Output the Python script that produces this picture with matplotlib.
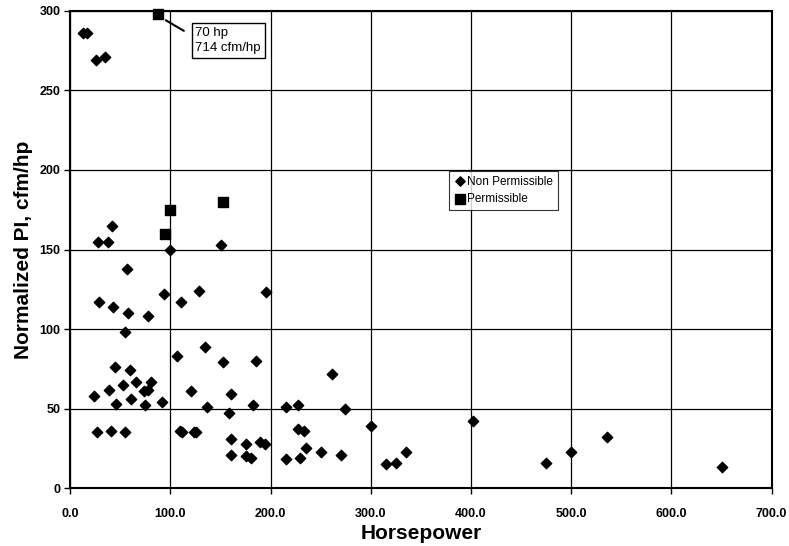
import matplotlib.pyplot as plt

plt.rcParams['font.family'] = ['Liberation Sans', 'DejaVu Sans']

# Non permissible machines (horsepower, normalized PI)
np_hp = [13, 17, 26, 35,
         42, 28, 38, 100, 150, 57, 29, 43, 58, 78, 94, 111, 129, 195,
         55, 107, 135, 152, 185, 45, 60, 66, 81, 53, 39, 74, 78, 24, 61,
         46, 75, 92, 121, 160, 137, 182, 215, 227, 158, 27, 41, 55, 110,
         112, 124, 126, 160, 175, 189, 194, 160, 175, 180, 215, 227, 233,
         261, 274, 300, 402, 235, 250, 270, 229, 315, 325, 335,
         475, 500, 536, 650]
np_pi = [286, 286, 269, 271,
         165, 155, 155, 150, 153, 138, 117, 114, 110, 108, 122, 117, 124, 123,
         98, 83, 89, 79, 80, 76, 74, 67, 67, 65, 62, 61, 62, 58, 56,
         53, 52, 54, 61, 59, 51, 52, 51, 52, 47, 35, 36, 35, 36,
         35, 35, 35, 31, 28, 29, 28, 21, 20, 19, 18, 37, 36,
         72, 50, 39, 42, 25, 23, 21, 19, 15, 16, 23,
         16, 23, 32, 13]

# Permissible machines
p_hp = [88, 95, 100, 152]
p_pi = [298, 160, 175, 180]

fig = plt.figure(figsize=(7.89, 5.46), dpi=100)
ax = fig.add_axes([0.089, 0.106, 0.889, 0.874])

ax.scatter(np_hp, np_pi, marker='D', s=28, color='black', label='Non Permissible',
           zorder=3, clip_on=False)
ax.scatter(p_hp, p_pi, marker='s', s=55, color='black', label='Permissible',
           zorder=3, clip_on=False)

ax.set_xlim(0, 700)
ax.set_ylim(0, 300)
ax.set_xticks(range(0, 701, 100))
ax.set_xticklabels([f'{v:.1f}' for v in range(0, 701, 100)])
ax.set_yticks(range(0, 301, 50))
ax.tick_params(labelsize=9, direction='out', length=4, width=1, pad=3)
for lab in ax.get_xticklabels() + ax.get_yticklabels():
    lab.set_fontweight('bold')
ax.tick_params(axis='x', pad=10)

ax.grid(True, color='black', linewidth=0.9)
ax.set_axisbelow(True)
for sp in ax.spines.values():
    sp.set_linewidth(1.5)

ax.set_xlabel('Horsepower', fontsize=15, fontweight='bold', labelpad=3)
ax.set_ylabel('Normalized PI, cfm/hp', fontsize=15, fontweight='bold', labelpad=5)

ax.annotate('70 hp\n714 cfm/hp', xy=(93, 295), xytext=(125, 290),
            fontsize=9.5, ha='left', va='top', linespacing=1.35,
            bbox=dict(boxstyle='square,pad=0.3', fc='white', ec='black', lw=1),
            arrowprops=dict(arrowstyle='-', lw=1.5, color='black',
                            relpos=(0, 0.6), shrinkA=6, shrinkB=2))

leg = ax.legend(loc='upper left', bbox_to_anchor=(0.562, 0.698),
                bbox_transform=fig.transFigure, fontsize=8.5, frameon=True,
                fancybox=False, edgecolor='black', handletextpad=0.1,
                handlelength=1, borderpad=0.4, labelspacing=0.5,
                scatterpoints=1, markerscale=0.9)
leg.get_frame().set_linewidth(0.8)

plt.savefig('out.png', dpi=100)
